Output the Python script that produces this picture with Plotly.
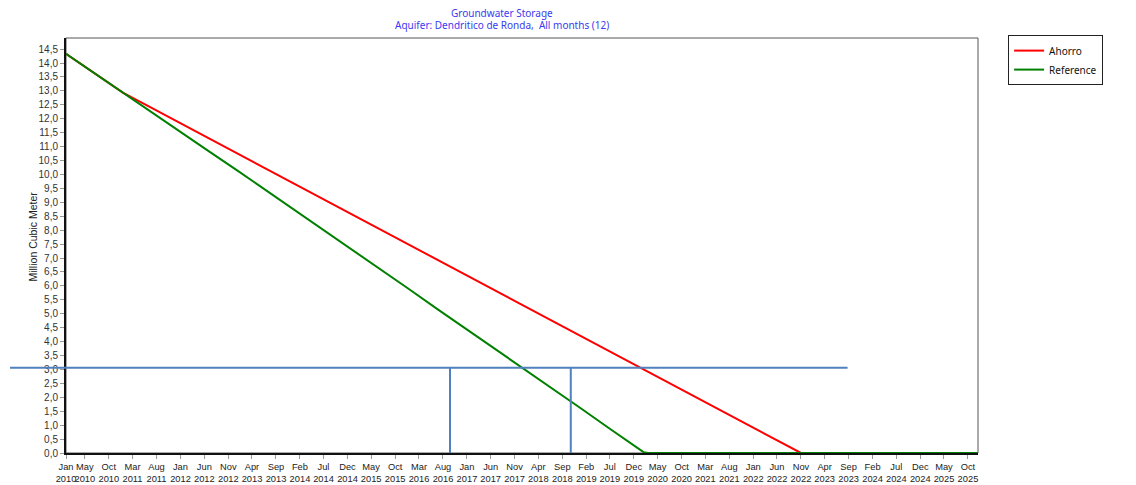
import pandas as pd
import plotly.graph_objects as go

# Simulated groundwater storage (million m3), monthly dates "YYYY-MM"
ref_dates = [
    "2010-01", "2010-07", "2011-01", "2011-07", "2012-01", "2012-07",
    "2013-01", "2013-07", "2014-01", "2014-07", "2015-01", "2015-07",
    "2016-01", "2016-07", "2017-01", "2017-07", "2018-01", "2018-07",
    "2019-01", "2019-07", "2020-01", "2020-02", "2020-03", "2021-01",
    "2022-01", "2023-01", "2024-01", "2025-01", "2025-12",
]
ref_storage = [
    14.33, 13.63, 12.93, 12.23, 11.53, 10.83,
    10.13, 9.43, 8.72, 8.01, 7.29, 6.58,
    5.87, 5.15, 4.44, 3.73, 3.01, 2.30,
    1.59, 0.87, 0.14, 0.03, 0.0, 0.0,
    0.0, 0.0, 0.0, 0.0, 0.0,
]

ahorro_dates = [
    "2010-01", "2010-07", "2011-01", "2011-07", "2012-01", "2012-07",
    "2013-01", "2013-07", "2014-01", "2014-07", "2015-01", "2015-07",
    "2016-01", "2016-07", "2017-01", "2017-07", "2018-01", "2018-07",
    "2019-01", "2019-07", "2020-01", "2020-07", "2021-01", "2021-07",
    "2022-01", "2022-07", "2022-11", "2023-01", "2024-01", "2025-01",
    "2025-12",
]
ahorro_storage = [
    14.33, 13.63, 12.93, 12.39, 11.84, 11.29,
    10.75, 10.20, 9.65, 9.11, 8.56, 8.01,
    7.47, 6.92, 6.37, 5.83, 5.28, 4.73,
    4.18, 3.64, 3.09, 2.55, 2.00, 1.45,
    0.91, 0.36, 0.0, 0.0, 0.0, 0.0,
    0.0,
]

tick_months = [
    "2010-01", "2010-05", "2010-10", "2011-03", "2011-08", "2012-01",
    "2012-06", "2012-11", "2013-04", "2013-09", "2014-02", "2014-07",
    "2014-12", "2015-05", "2015-10", "2016-03", "2016-08", "2017-01",
    "2017-06", "2017-11", "2018-04", "2018-09", "2019-02", "2019-07",
    "2019-12", "2020-05", "2020-10", "2021-03", "2021-08", "2022-01",
    "2022-06", "2022-11", "2023-04", "2023-09", "2024-02", "2024-07",
    "2024-12", "2025-05", "2025-10",
]
tick_text = [pd.Timestamp(m).strftime("%b<br>%Y") for m in tick_months]

threshold_level = 3.06
marker_dates = ["2016-09-15", "2018-10-25"]

title_color = "#3a3af0"
guide_color = "#4f81bd"
narrow_font = "Liberation Sans Narrow, Arial Narrow, Liberation Sans, sans-serif"
ui_font = "Noto Sans, Open Sans, sans-serif"

fig = go.Figure()
fig.add_trace(go.Scatter(
    x=ahorro_dates, y=ahorro_storage, mode="lines", name="Ahorro",
    line=dict(color="#ff0000", width=2),
))
fig.add_trace(go.Scatter(
    x=ref_dates, y=ref_storage, mode="lines", name="Reference",
    line=dict(color="#008000", width=2),
))

# Plot frame
fig.add_shape(type="rect", xref="paper", yref="paper", x0=0, x1=1, y0=0, y1=1,
              line=dict(color="#555555", width=1), layer="below")

# Threshold guide and the two marker verticals
fig.add_shape(type="line", xref="paper", yref="y", x0=-0.0614, x1=0.857,
              y0=threshold_level, y1=threshold_level,
              line=dict(color=guide_color, width=2))
for d in marker_dates:
    fig.add_shape(type="line", xref="x", yref="y", x0=d, x1=d,
                  y0=0, y1=threshold_level,
                  line=dict(color=guide_color, width=2))

fig.add_annotation(text="Groundwater Storage", xref="paper", yref="paper",
                   x=0.478, y=1.060, xanchor="center", yanchor="middle",
                   showarrow=False, font=dict(family=ui_font, size=10, color=title_color))
fig.add_annotation(text="Aquifer: Dendritico de Ronda,\u00a0 All months (12)",
                   xref="paper", yref="paper",
                   x=0.478, y=1.031, xanchor="center", yanchor="middle",
                   showarrow=False, font=dict(family=ui_font, size=10, color=title_color))
fig.add_annotation(text="Million Cubic Meter", xref="paper", yref="paper",
                   x=-0.036, y=0.522, xanchor="center", yanchor="middle",
                   textangle=-90, showarrow=False,
                   font=dict(family="Liberation Sans, Arial, sans-serif", size=10.5, color="#222222"))

fig.update_layout(
    width=1136, height=485,
    margin=dict(l=66, r=158, t=38, b=32, autoexpand=False),
    plot_bgcolor="white", paper_bgcolor="white",
    separators=", ",
    showlegend=True,
    legend=dict(x=1.033, y=1.007, xanchor="left", yanchor="top",
                bgcolor="white", bordercolor="#222222", borderwidth=1,
                font=dict(family=ui_font, size=10, color="#111111"),
                tracegroupgap=0, itemwidth=30),
    xaxis=dict(
        type="date", range=["2010-01-01", "2025-12-04"], automargin=False,
        tickmode="array", tickvals=tick_months, ticktext=tick_text,
        tickangle=0, ticks="outside", ticklen=4, tickcolor="#999999",
        showline=True, linecolor="#111111", linewidth=2,
        showgrid=False, zeroline=False,
        tickfont=dict(family=narrow_font, size=9.3, color="#222222"),
    ),
    yaxis=dict(
        range=[0, 14.9], tick0=0, dtick=0.5, tickformat=".1f", automargin=False,
        ticks="outside", ticklen=4, tickcolor="#999999",
        showline=True, linecolor="#111111", linewidth=2,
        showgrid=False, zeroline=False,
        tickfont=dict(family="Liberation Sans, Arial, sans-serif", size=10, color="#333333"),
    ),
)

fig.write_html("out.html")
